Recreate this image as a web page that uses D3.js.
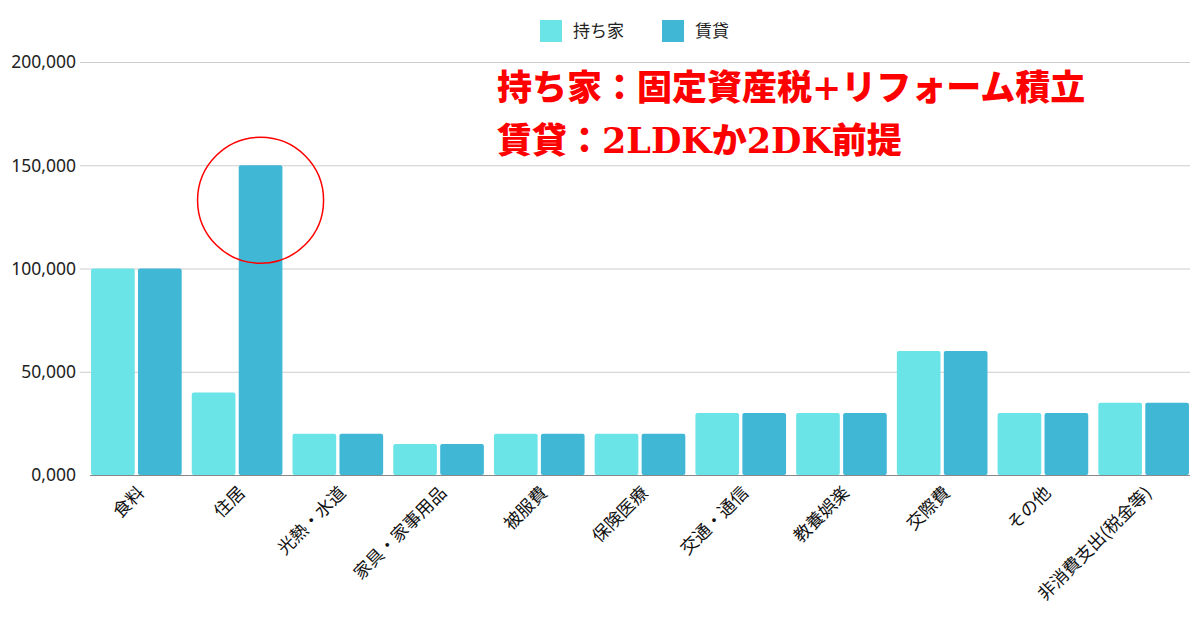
<!DOCTYPE html>
<html><head><meta charset="utf-8">
<script src="https://cdn.jsdelivr.net/npm/d3@7/dist/d3.min.js"></script>
<style>
body{margin:0;background:#fff;}
svg{display:block;font-family:"Noto Sans","Noto Sans CJK JP",sans-serif;}
</style></head><body>
<svg id="c" width="1200" height="630"></svg>
<script>
const categories = ["食料","住居","光熱・水道","家具・家事用品","被服費","保険医療","交通・通信","教養娯楽","交際費","その他","非消費支出(税金等)"];
const seriesNames = ["持ち家","賃貸"];
const ownValues  = [100000,40000,20000,15000,20000,20000,30000,30000,60000,30000,35000];
const rentValues = [100000,150000,20000,15000,20000,20000,30000,30000,60000,30000,35000];
const tickValues = [0,50000,100000,150000,200000];
const tickLabels = ["0,000","50,000","100,000","150,000","200,000"];
const noteLines = ["持ち家：固定資産税+リフォーム積立","賃貸：2LDKか2DK前提"];
const highlight = {category:"住居", series:"賃貸"};

const colors = {"持ち家":"#6be4e8","賃貸":"#41b7d6"};
const svg = d3.select("#c");
const plotL = 90, plotR = 1190, plotT = 62, plotB = 475;

const y = d3.scaleLinear().domain([0,200000]).range([plotB, plotT]);
const x0 = d3.scaleBand().domain(categories).range([86,1194]).paddingInner(0.1).paddingOuter(0.05);
const x1 = d3.scaleBand().domain(seriesNames).range([0,x0.bandwidth()]).paddingInner(0.07);

// gridlines
svg.append("g").selectAll("line").data(tickValues.slice(1)).join("line")
  .attr("x1",plotL-10).attr("x2",plotR).attr("y1",d=>y(d)+0.5).attr("y2",d=>y(d)+0.5)
  .attr("stroke","#cccccc").attr("stroke-width",1);

// y labels
svg.append("g").selectAll("text").data(tickValues).join("text")
  .attr("x",76).attr("y",d=>y(d)).attr("dy","0.36em").attr("text-anchor","end")
  .attr("font-size",17.5).attr("fill","#222").text((d,i)=>tickLabels[i]);

// bars
const data = categories.map((c,i)=>({c, vals:[{s:"持ち家",v:ownValues[i]},{s:"賃貸",v:rentValues[i]}]}));
const g = svg.append("g").selectAll("g").data(data).join("g").attr("transform",d=>`translate(${x0(d.c)},0)`);
g.selectAll("rect").data(d=>d.vals).join("rect")
  .attr("x",d=>x1(d.s)).attr("width",x1.bandwidth())
  .attr("y",d=>y(d.v)).attr("height",d=>plotB-y(d.v))
  .attr("rx",2).attr("fill",d=>colors[d.s]);

// baseline
svg.append("line").attr("x1",plotL).attr("x2",plotR).attr("y1",plotB+0.5).attr("y2",plotB+0.5)
  .attr("stroke","#888").attr("stroke-width",1);

// x labels
svg.append("g").selectAll("text").data(categories).join("text")
  .attr("transform",d=>`translate(${x0(d)+x0.bandwidth()/2+9},${plotB+19}) rotate(-45)`)
  .attr("text-anchor","end").attr("font-size",17.5).attr("fill","#111")
  .attr("font-family","'Noto Sans CJK JP',sans-serif").text(d=>d);

// legend
const leg = svg.append("g").attr("font-family","'Noto Sans CJK JP',sans-serif");
const legX = [540,662];
seriesNames.forEach((s,i)=>{
  leg.append("rect").attr("x",legX[i]).attr("y",20).attr("width",22).attr("height",22).attr("fill",colors[s]);
  leg.append("text").attr("x",legX[i]+33).attr("y",31).attr("dy","0.35em").attr("font-size",17).attr("fill","#222").text(s);
});

// highlight circle
const cx = x0(highlight.category)+x1(highlight.series)+x1.bandwidth()/2;
svg.append("circle").attr("cx",cx).attr("cy",y(150000)+35).attr("r",63)
  .attr("fill","none").attr("stroke","#ff0000").attr("stroke-width",1.5);

// note
svg.append("g").selectAll("text").data(noteLines).join("text")
  .attr("x",497).attr("y",(d,i)=>100+i*53).attr("font-size",35).attr("font-weight",900)
  .attr("fill","#ff0000").attr("font-family","'DejaVu Serif','Noto Sans CJK JP',serif").text(d=>d);
</script>
</body></html>
